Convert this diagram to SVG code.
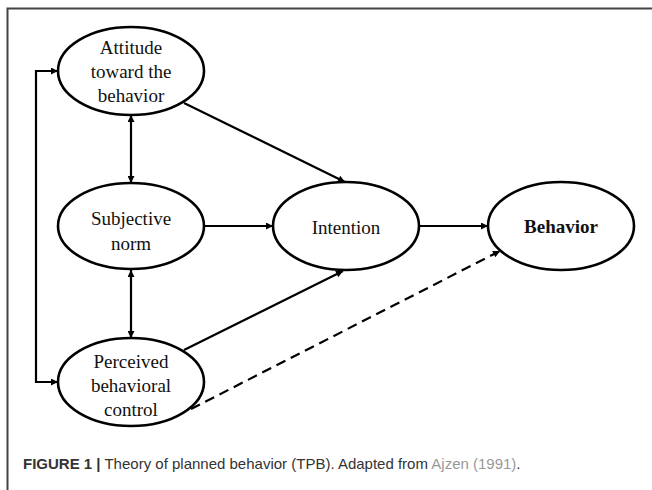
<svg xmlns="http://www.w3.org/2000/svg" width="652" height="490" viewBox="0 0 652 490">
<defs>
<marker id="ah" viewBox="0 0 10 10" refX="10" refY="5" markerWidth="9" markerHeight="7" markerUnits="userSpaceOnUse" orient="auto-start-reverse">
<path d="M0,0 L10,5 L0,10 z" fill="#000"/>
</marker>
<style>
.node ellipse{fill:#fff;stroke:#000;stroke-width:2.6}
.node text{font-family:"Liberation Serif","Times New Roman",serif;font-size:19px;fill:#111;text-anchor:middle}
.conn line,.conn polyline{stroke:#000;stroke-width:2.2;fill:none}
.cap{font-family:"Liberation Sans",Arial,sans-serif;font-size:15px;fill:#333}
</style>
</defs>
<rect width="652" height="490" fill="#fff"/>
<path d="M7.5,490 V8.5 H652" fill="none" stroke="#444" stroke-width="2"/>
<g class="conn" id="connectors">
<polyline points="58,71 36,71 36,382 58,382" marker-start="url(#ah)" marker-end="url(#ah)"/>
<line x1="131" y1="115" x2="131" y2="183" marker-start="url(#ah)" marker-end="url(#ah)"/>
<line x1="131" y1="270" x2="131" y2="338" marker-start="url(#ah)" marker-end="url(#ah)"/>
<line x1="184" y1="103" x2="345" y2="182" marker-end="url(#ah)"/>
<line x1="204" y1="226" x2="273" y2="226" marker-end="url(#ah)"/>
<line x1="184" y1="350" x2="343" y2="271" marker-end="url(#ah)"/>
<line x1="420" y1="226" x2="488" y2="226" marker-end="url(#ah)"/>
<line x1="191" y1="409" x2="500" y2="251" stroke-dasharray="10,6" marker-end="url(#ah)"/>
</g>
<g class="node" id="attitude">
<ellipse cx="131" cy="71" rx="73" ry="44"/>
<text x="131" y="54">Attitude</text>
<text x="131" y="78">toward the</text>
<text x="131" y="102">behavior</text>
</g>
<g class="node" id="subjective">
<ellipse cx="131" cy="226" rx="73" ry="43"/>
<text x="131" y="225">Subjective</text>
<text x="131" y="250">norm</text>
</g>
<g class="node" id="perceived">
<ellipse cx="131" cy="382" rx="73" ry="44"/>
<text x="131" y="368">Perceived</text>
<text x="131" y="392">behavioral</text>
<text x="131" y="416">control</text>
</g>
<g class="node" id="intention">
<ellipse cx="346" cy="226" rx="73" ry="44"/>
<text x="346" y="234">Intention</text>
</g>
<g class="node" id="behavior">
<ellipse cx="561" cy="226" rx="73" ry="44"/>
<text x="561" y="233" font-weight="bold">Behavior</text>
</g>
<text class="cap" x="23" y="469"><tspan font-weight="bold">FIGURE 1 |</tspan> Theory of planned behavior (TPB). Adapted from <tspan fill="#999">Ajzen (1991)</tspan>.</text>
</svg>
